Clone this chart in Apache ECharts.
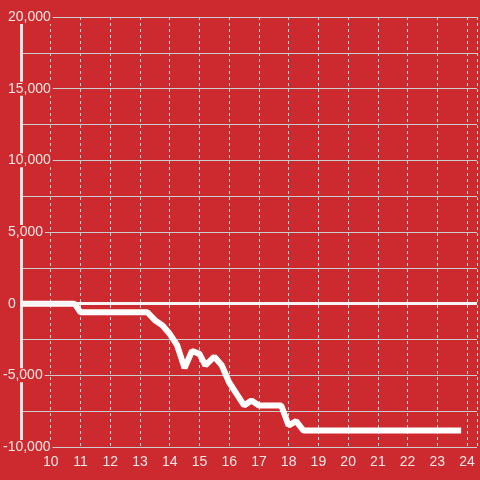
<!DOCTYPE html>
<html>
<head>
<meta charset="utf-8">
<script src="https://cdn.jsdelivr.net/npm/echarts@6/dist/echarts.min.js"></script>
<style>
  html, body { margin: 0; padding: 0; }
  #main { width: 480px; height: 480px; }
</style>
</head>
<body>
<div id="main"></div>
<script>
const BG = '#cd2a2f';
const FG = '#f0e6e6';

// x positions (hours) and values
const xValues = [9, 10.8, 11.0, 13.25, 13.5, 13.75, 14.0, 14.25, 14.5, 14.75, 15.0, 15.2, 15.5, 15.75,
  16.0, 16.25, 16.5, 16.75, 17.0, 17.75, 18.0, 18.25, 18.5, 23.8];
const yValues = [0, 0, -600, -600, -1150, -1500, -2100, -2900, -4500, -3300, -3500, -4300, -3700, -4300,
  -5500, -6300, -7100, -6750, -7100, -7100, -8500, -8200, -8850, -8850];

const chart = echarts.init(document.getElementById('main'));

const option = {
  backgroundColor: BG,
  animation: false,
  textStyle: { fontFamily: 'Liberation Sans, Arial, sans-serif' },
  grid: { left: 20, right: 0, top: 17, bottom: 33 },
  xAxis: {
    type: 'value',
    min: 9,
    max: 24.333,
    interval: 1,
    axisLine: { show: false },
    axisTick: { show: false },
    axisLabel: {
      color: FG,
      fontSize: 14,
      margin: 8,
      formatter: (v) => (v >= 10 && Number.isInteger(v) ? String(v) : '')
    },
    splitLine: { show: true, lineStyle: { color: '#d8d8d8', width: 1, type: [3, 3] } }
  },
  yAxis: {
    type: 'value',
    min: -10000,
    max: 20000,
    interval: 2500,
    axisLine: { show: true, lineStyle: { color: FG, width: 3 } },
    axisTick: { show: false },
    axisLabel: {
      align: 'left',
      margin: 18,
      color: FG,
      fontSize: 14,
      backgroundColor: BG,
      padding: [0, 2, 0, 0],
      formatter: (v) => {
        if (v % 5000 !== 0) return '';
        const s = v.toLocaleString('en-US');
        return v < 0 ? '{n|' + s + '}' : '{p|' + s + '}';
      },
      rich: {
        n: { color: FG, fontSize: 14 },
        p: { color: FG, fontSize: 14, padding: [0, 0, 0, 5] }
      }
    },
    splitLine: { show: true, lineStyle: { color: '#cccccc', width: 1 } }
  },
  series: [{
    type: 'line',
    data: xValues.map((x, i) => [x, yValues[i]]),
    showSymbol: false,
    lineStyle: { color: '#ffffff', width: 6 },
    markLine: {
      silent: true,
      symbol: 'none',
      label: { show: false },
      lineStyle: { color: '#f5f5f5', width: 3, type: 'solid' },
      data: [{ yAxis: 0 }]
    }
  }]
};

chart.setOption(option);
</script>
</body>
</html>
